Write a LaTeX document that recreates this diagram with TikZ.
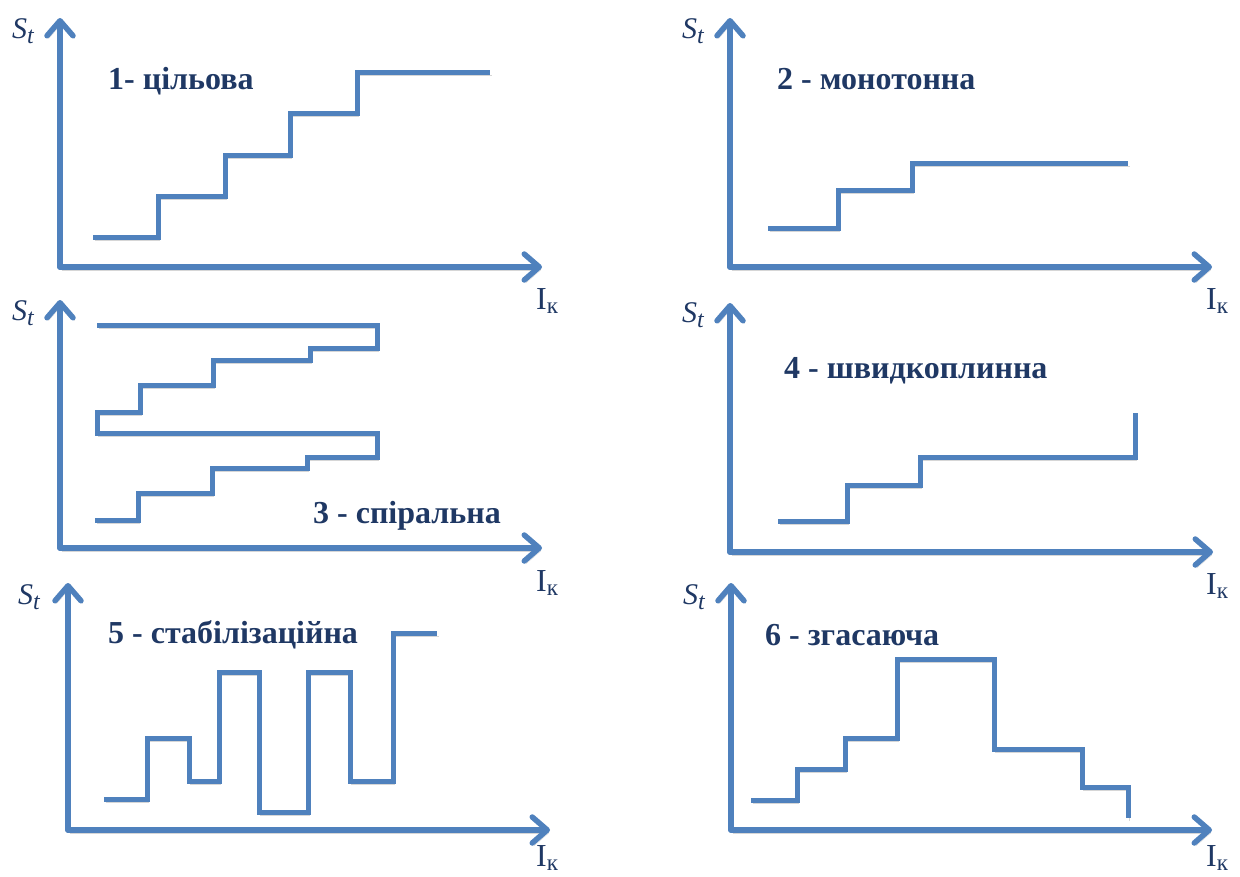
\documentclass[tikz,border=0pt]{standalone}
\usepackage{fontspec}
\setmainfont{Liberation Serif}
\usetikzlibrary{arrows.meta}
\definecolor{lineblue}{HTML}{4F81BD}
\definecolor{navy}{HTML}{1F3864}
\tikzset{
  softshadow/.style={preaction={draw=black, draw opacity=0.16, transform canvas={shift={(1.5pt,-3pt)}}}},
  axis/.style={draw=lineblue, line width=5.5pt, line cap=round, softshadow,
    -{Straight Barb[length=15pt,width=26pt,round]}},
  curve/.style={draw=lineblue, line width=5pt, line join=miter, softshadow},
  title/.style={font=\fontsize{32}{34}\selectfont\bfseries, text=navy, inner sep=0pt, anchor=base west},
  ylab/.style={font=\fontsize{30}{32}\selectfont, text=navy, inner sep=0pt, anchor=base west},
  xlab/.style={font=\fontsize{32}{34}\selectfont, text=navy, inner sep=0pt, anchor=base west},
}
% axis labels with their subscripts
\newcommand{\stlabel}{\textit{S}\raisebox{-5pt}{\fontsize{24}{24}\selectfont\textit{t}}}
\newcommand{\iklabel}{I\raisebox{-4pt}{\fontsize{23}{23}\selectfont к}}
% axes of one panel: name, origin x, origin y, top of the vertical axis, end of the horizontal axis
\newcommand{\panelaxes}[5]{%
  \coordinate (#1o) at (#2,#3);
  \coordinate (#1y) at (#2,#4);
  \coordinate (#1x) at (#5,#3);
  \draw[axis] (#1o) -- (#1y);
  \draw[axis] (#1o) -- (#1x);
}
\begin{document}
\begin{tikzpicture}[x=1pt,y=-1pt]
\useasboundingbox (0,0) rectangle (1240,876);

% panel 1: goal-directed
\panelaxes{a}{60}{267}{18}{542}
\draw[curve] (93,237) -- (158,237) -- (158,196) -- (225,196) -- (225,155) -- (290,155)
  -- (290,113) -- (357,113) -- (357,72) -- (490,72);
\node[title] (t1) at (108,89) {1- цільова};
\node[ylab] (s1) at (12,38) {\stlabel};
\node[xlab] (i1) at (536,309) {\iklabel};

% panel 2: monotonic
\panelaxes{b}{730}{267}{18}{1212}
\draw[curve] (768,228) -- (838,228) -- (838,190) -- (912,190) -- (912,163) -- (1128,163);
\node[title] (t2) at (777,89) {2 - монотонна};
\node[ylab] (s2) at (682,38) {\stlabel};
\node[xlab] (i2) at (1206,309) {\iklabel};

% panel 3: spiral
\panelaxes{c}{60}{548}{300}{542}
\draw[curve] (97,325) -- (377,325) -- (377,348) -- (310,348) -- (310,360) -- (213,360)
  -- (213,385) -- (140,385) -- (140,412) -- (97,412) -- (97,433) -- (377,433)
  -- (377,457) -- (307,457) -- (307,468) -- (212,468) -- (212,493) -- (138,493)
  -- (138,520) -- (95,520);
\node[title] (t3) at (313,523) {3 - спіральна};
\node[ylab] (s3) at (12,320) {\stlabel};
\node[xlab] (i3) at (536,591) {\iklabel};

% panel 4: short-lived
\panelaxes{d}{730}{552}{303}{1213}
\draw[curve] (778,521) -- (847,521) -- (847,485) -- (920,485) -- (920,457) -- (1135,457) -- (1135,413);
\node[title] (t4) at (784,378) {4 - швидкоплинна};
\node[ylab] (s4) at (682,322) {\stlabel};
\node[xlab] (i4) at (1206,594) {\iklabel};

% panel 5: stabilizing
\panelaxes{e}{68}{830}{583}{550}
\draw[curve] (104,799) -- (147,799) -- (147,738) -- (189,738) -- (189,781) -- (219,781)
  -- (219,672) -- (259,672) -- (259,812) -- (308,812) -- (308,672) -- (350,672)
  -- (350,781) -- (393,781) -- (393,633) -- (437,633);
\node[title] (t5) at (108,643) {5 - стабілізаційна};
\node[ylab] (s5) at (18,604) {\stlabel};
\node[xlab] (i5) at (536,866) {\iklabel};

% panel 6: fading
\panelaxes{f}{731}{830}{583}{1212}
\draw[curve] (751,800) -- (797,800) -- (797,769) -- (845,769) -- (845,738) -- (897,738)
  -- (897,659) -- (994,659) -- (994,749) -- (1082,749) -- (1082,787) -- (1128,787) -- (1128,818);
\node[title] (t6) at (765,645) {6 - згасаюча};
\node[ylab] (s6) at (683,604) {\stlabel};
\node[xlab] (i6) at (1206,866) {\iklabel};
\end{tikzpicture}
\end{document}
